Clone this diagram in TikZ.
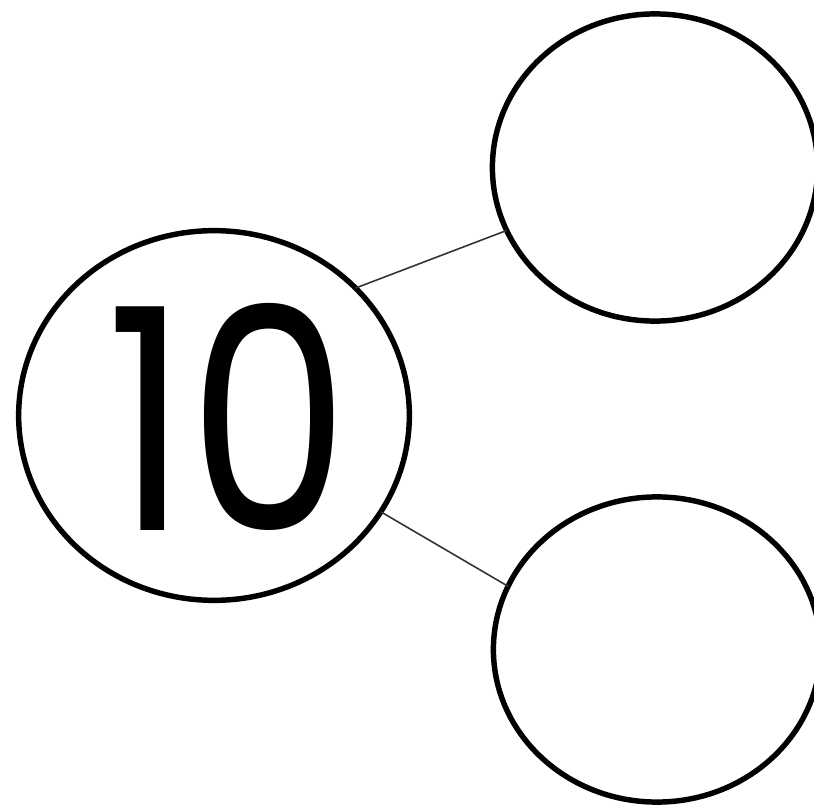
\documentclass[tikz,border=0pt]{standalone}
\usepackage{fontspec}
\newfontfamily\bondfont{Poppins}
\usetikzlibrary{shapes.geometric}
\tikzset{
  bond bubble/.style={
    ellipse,
    draw=black,
    line width=1.55pt,
    inner sep=0pt,
    outer sep=0pt,
  },
  bond link/.style={
    draw=black!80,
    line width=0.45pt,
  },
}

\begin{document}
\begin{tikzpicture}[x=0.01cm, y=-0.01cm]

\useasboundingbox (0,0) rectangle (814,806);

% whole and its two parts
\node [bond bubble, minimum width=3.905cm, minimum height=3.695cm] (whole) at (214,415.5) {};
\node [bond bubble, minimum width=3.25cm, minimum height=3.07cm] (part top) at (655,167.5) {};
\node [bond bubble, minimum width=3.27cm, minimum height=3.05cm] (part bottom) at (657,649.5) {};

\node [font=\bondfont\fontsize{88}{88}\selectfont, inner sep=0pt, xscale=0.83] (whole label) at (228,417) {10};

% links
\draw [bond link] (whole.42) -- (part top.203);
\draw [bond link] (whole.330) -- (part bottom.157);

\end{tikzpicture}
\end{document}
